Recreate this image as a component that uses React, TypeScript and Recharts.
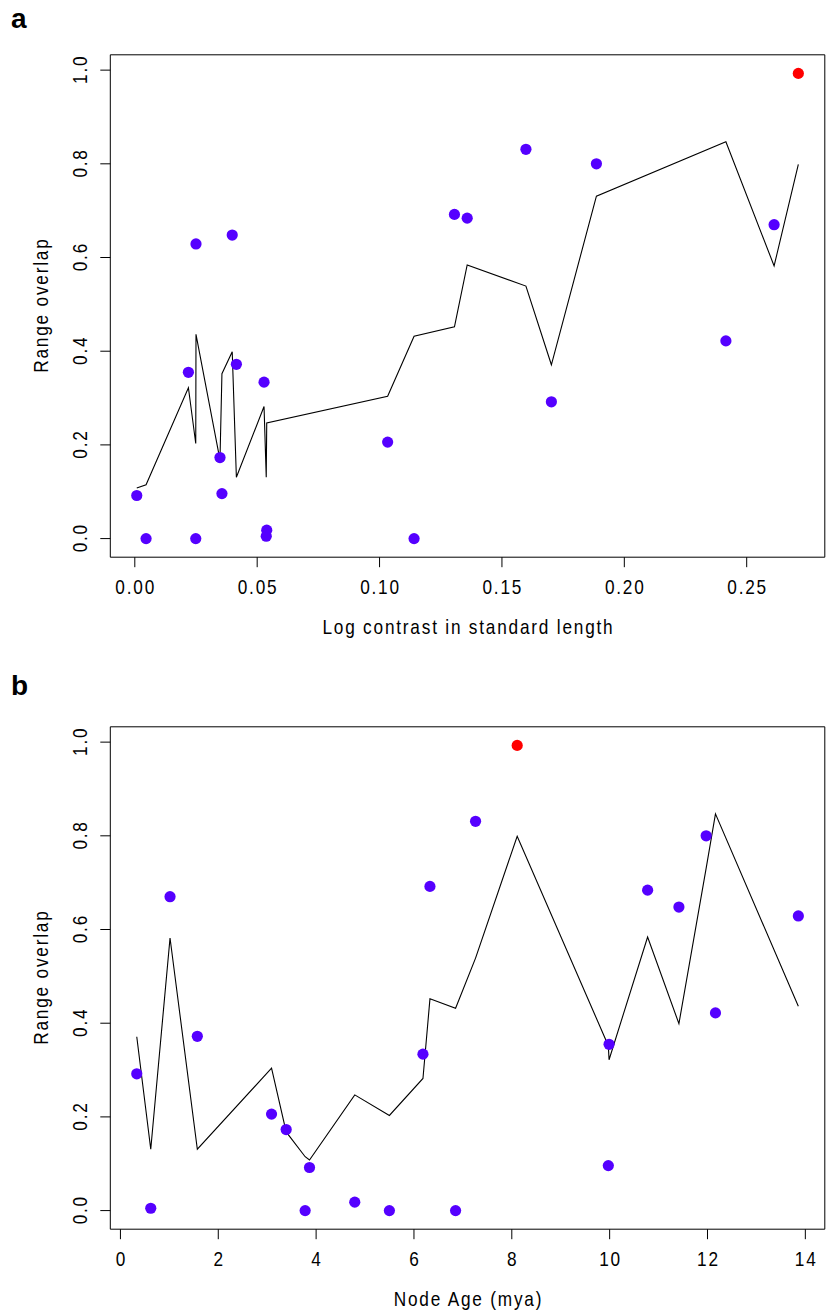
import React from "react";
import { ComposedChart, Scatter, Line, XAxis, YAxis, ReferenceArea } from "recharts";

// One entry per species pair (same order in every array)
const lengthContrast = [0.0008, 0.0046, 0.0219, 0.0249, 0.025, 0.0348, 0.0356, 0.0398, 0.0415, 0.0528, 0.0537, 0.0539, 0.1033, 0.1141, 0.1306, 0.1358, 0.1598, 0.1702, 0.1886, 0.2415, 0.2612, 0.2711];
const nodeAgeMya = [3.865, 3.776, 9.988, 5.498, 13.857, 3.388, 9.973, 11.416, 1.572, 6.184, 0.62, 4.79, 3.089, 6.851, 6.327, 10.776, 7.259, 0.334, 11.973, 12.163, 1.014, 8.11];
const rangeOverlap = [0.092, 0.0, 0.355, 0.0, 0.629, 0.173, 0.096, 0.648, 0.372, 0.334, 0.005, 0.018, 0.206, 0.0, 0.692, 0.684, 0.831, 0.292, 0.8, 0.422, 0.67, 0.993];
const fittedOverlap = [0.108, 0.115, 0.322, 0.203, 0.436, 0.168, 0.352, 0.399, 0.131, 0.282, 0.131, 0.247, 0.304, 0.432, 0.452, 0.584, 0.539, 0.371, 0.731, 0.847, 0.582, 0.799];
const highlighted = [false, false, false, false, false, false, false, false, false, false, false, false, false, false, false, false, false, false, false, false, false, true];

const yTicks = [0, 0.2, 0.4, 0.6, 0.8, 1.0];
const xTicksA = [0, 0.05, 0.1, 0.15, 0.2, 0.25];
const xTicksB = [0, 2, 4, 6, 8, 10, 12, 14];

const FONT = "'Liberation Sans', Arial, Helvetica, sans-serif";
const FS = 21;
const LS = 1.8;
const SQUEEZE = 0.82;
const PURPLE = "#5500ff";
const RED = "#ff0000";

const W = 826;
const TOTAL_H = 1313;
const PANEL_A_H = 671.5;
const PANEL_B_H = TOTAL_H - PANEL_A_H;
const PLOT_TOP = 54.8;
const PLOT_BOTTOM = 557.2;
const Y_AXIS_W = 110.3;
const RIGHT_M = 1.2;
const TICK = 10;

function rRange(vals: number[]): [number, number] {
  const lo = Math.min(...vals);
  const hi = Math.max(...vals);
  const d = (hi - lo) * 0.04;
  return [lo - d, hi + d];
}

const yDomain = rRange(rangeOverlap);

// Narrow (condensed) text: real SVG text squeezed horizontally along its direction
const NarrowText = ({ x, y, rotate = false, children }: any) => (
  <g transform={`translate(${x} ${y})${rotate ? " rotate(-90)" : ""} scale(${SQUEEZE} 1)`}>
    <text x={LS / SQUEEZE / 2} y={0} textAnchor="middle" fontFamily={FONT} fontSize={FS} letterSpacing={LS / SQUEEZE} fill="#000">
      {children}
    </text>
  </g>
);

const XTick = (props: any) => {
  const { x, y, payload, digits } = props;
  return <NarrowText x={x} y={y + 26.8}>{Number(payload.value).toFixed(digits)}</NarrowText>;
};

const YTick = (props: any) => {
  const { x, y, payload } = props;
  return <NarrowText x={x - 13.3} y={y} rotate>{Number(payload.value).toFixed(1)}</NarrowText>;
};

const dot = (color: string) => (props: any) => {
  const { cx, cy } = props;
  if (cx == null || cy == null) return <g />;
  return <circle cx={cx} cy={cy} r={5.6} fill={color} stroke="none" />;
};

type PanelProps = {
  xValues: number[];
  xTicks: number[];
  digits: number;
  xTitle: string;
  height: number;
};

function Panel({ xValues, xTicks, digits, xTitle, height }: PanelProps) {
  const rows = xValues.map((x, i) => ({ x, y: rangeOverlap[i], fit: fittedOverlap[i], hi: highlighted[i] }));
  const sorted = [...rows].sort((a, b) => a.x - b.x);
  const normal = rows.filter((r) => !r.hi);
  const special = rows.filter((r) => r.hi);
  const xDomain = rRange(xValues);
  const xAxisH = height - PLOT_BOTTOM;

  return (
    <ComposedChart width={W} height={height} margin={{ top: PLOT_TOP, right: RIGHT_M, bottom: 0, left: 0 }}>
      <XAxis
        type="number"
        dataKey="x"
        domain={xDomain}
        ticks={xTicks}
        interval={0}
        allowDataOverflow
        height={xAxisH}
        axisLine={false}
        tickLine={{ stroke: "#000", strokeWidth: 1 }}
        tickSize={TICK}
        tickMargin={0}
        tick={<XTick digits={digits} />}
        label={(p: any) => {
          const vb = p.viewBox || { x: Y_AXIS_W, y: PLOT_BOTTOM, width: W - Y_AXIS_W - RIGHT_M };
          return <NarrowText x={vb.x + vb.width / 2} y={vb.y + 76.8}>{xTitle}</NarrowText>;
        }}
      />
      <YAxis
        type="number"
        dataKey="y"
        domain={yDomain}
        ticks={yTicks}
        interval={0}
        allowDataOverflow
        width={Y_AXIS_W}
        axisLine={false}
        tickLine={{ stroke: "#000", strokeWidth: 1 }}
        tickSize={TICK}
        tickMargin={0}
        tick={<YTick />}
        label={(p: any) => {
          const vb = p.viewBox || { x: 0, y: PLOT_TOP, height: PLOT_BOTTOM - PLOT_TOP };
          return <NarrowText x={vb.x + 48} y={vb.y + vb.height / 2} rotate>Range overlap</NarrowText>;
        }}
      />
      <ReferenceArea
        x1={xDomain[0]}
        x2={xDomain[1]}
        y1={yDomain[0]}
        y2={yDomain[1]}
        fill="none"
        fillOpacity={0}
        stroke="#000"
        strokeWidth={1}
        ifOverflow="visible"
      />
      <Scatter data={normal} dataKey="y" shape={dot(PURPLE)} isAnimationActive={false} />
      <Scatter data={special} dataKey="y" shape={dot(RED)} isAnimationActive={false} />
      <Line
        data={sorted}
        dataKey="fit"
        type="linear"
        stroke="#000"
        strokeWidth={1.1}
        dot={false}
        activeDot={false}
        isAnimationActive={false}
      />
    </ComposedChart>
  );
}

export default function App() {
  return (
    <div style={{ position: "absolute", left: 0, top: 0, width: W, height: TOTAL_H, overflow: "hidden", background: "#fff" }}>
      <div style={{ position: "absolute", left: 0, top: 0 }}>
        <Panel xValues={lengthContrast} xTicks={xTicksA} digits={2} xTitle="Log contrast in standard length" height={PANEL_A_H} />
      </div>
      <div style={{ position: "absolute", left: 0, top: PANEL_A_H }}>
        <Panel xValues={nodeAgeMya} xTicks={xTicksB} digits={0} xTitle="Node Age (mya)" height={PANEL_B_H} />
      </div>
      <svg width={W} height={TOTAL_H} style={{ position: "absolute", left: 0, top: 0, pointerEvents: "none" }}>
        <text x={11} y={28} fontFamily={FONT} fontWeight="bold" fontSize={28} fill="#000">a</text>
        <text x={11} y={695} fontFamily={FONT} fontWeight="bold" fontSize={28} fill="#000">b</text>
      </svg>
    </div>
  );
}
